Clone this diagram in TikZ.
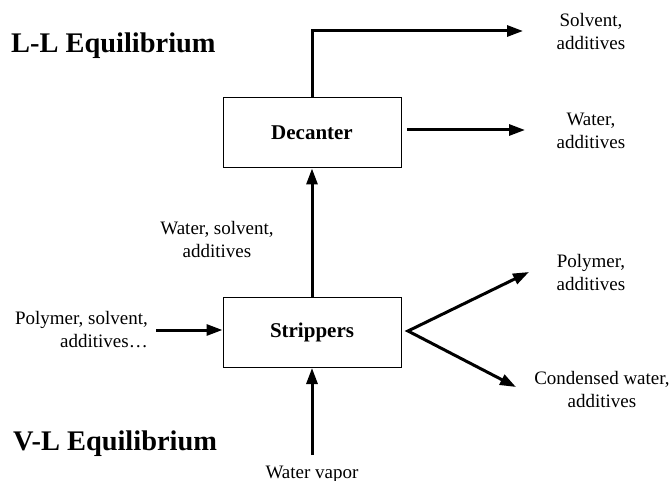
\documentclass[tikz,border=0pt]{standalone}
\usepackage{fontspec}
\setmainfont{Liberation Serif}
\usetikzlibrary{arrows.meta}
\begin{document}
\begin{tikzpicture}[x=1pt,y=-1pt,
  box/.style={draw, line width=1pt, minimum width=178pt, minimum height=70pt, inner sep=0pt,
    font=\fontsize{21}{25}\selectfont\bfseries},
  lbl/.style={font=\fontsize{19}{23}\selectfont, align=center, inner sep=0pt},
  flow/.style={line width=3pt, -{Triangle[length=16pt,width=11pt]}},
  eqtitle/.style={font=\fontsize{28.4}{34}\selectfont\bfseries, anchor=base west, inner sep=0pt}]
\useasboundingbox (0,0) rectangle (672,481);

% titles
\node[eqtitle] (ll) at (11,53) {L-L Equilibrium};
\node[eqtitle] (vl) at (13,450) {V-L Equilibrium};

% boxes
\node[box] (dec) at (312,133) {Decanter};
\node[box] (str) at (312,332.5) {Strippers};

% labels
\node[lbl] (solv) at (591,32) {Solvent,\\additives};
\node[lbl] (wat) at (591,131) {Water,\\additives};
\node[lbl] (wsa) at (217,240) {Water, solvent,\\additives};
\node[lbl, align=right, anchor=east] (feed) at (148,330) {Polymer, solvent,\\additives…};
\node[lbl] (poly) at (591,273) {Polymer,\\additives};
\node[lbl] (cond) at (602,389) {Condensed water,\\additives};
\node[lbl, anchor=base] (vap) at (312,478) {Water vapor};

% connector ends
\coordinate (e1) at (523,31);
\coordinate (s2) at (407,130);
\coordinate (e2) at (525,130);
\coordinate (s3) at (156,330);
\coordinate (split) at (408,331);
\coordinate (e4) at (529,272);
\coordinate (e5) at (516,387);
\coordinate (s6) at (312,455);

% connectors
\draw[flow] (dec.north) |- (e1);
\draw[flow] (s2) -- (e2);
\draw[flow] (str.north) -- (dec.south);
\draw[flow] (s3) -- (s3 -| str.west);
\draw[line width=3pt, line join=miter,
  {Triangle[length=16pt,width=11pt]}-{Triangle[length=16pt,width=11pt]}]
  (e4) -- (split) -- (e5);
\draw[flow] (s6) -- (str.south);
\end{tikzpicture}
\end{document}
